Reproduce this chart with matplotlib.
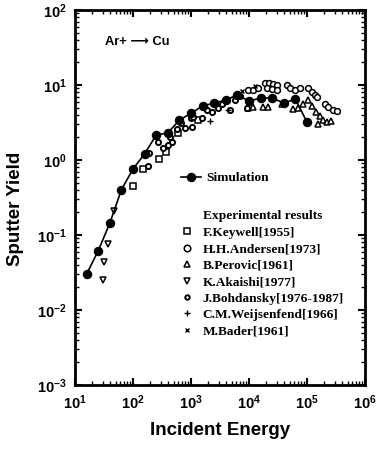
import matplotlib
matplotlib.use("Agg")
import matplotlib.pyplot as plt
from matplotlib.ticker import LogLocator, FuncFormatter, NullFormatter
from matplotlib.lines import Line2D
import numpy as np

plt.rcParams['mathtext.fontset'] = 'custom'
plt.rcParams['mathtext.bf'] = 'Liberation Sans:bold'
plt.rcParams['mathtext.rm'] = 'Liberation Sans'
plt.rcParams['font.family'] = ['Liberation Sans', 'DejaVu Sans']

# ---------------- data ----------------
sim_E = [15.8, 25, 40, 63, 100, 158, 251, 398, 631, 1000, 1585, 2512, 3981,
         6310, 10000, 15850, 25120, 39810, 63100, 100000]
sim_Y = [0.030, 0.061, 0.145, 0.40, 0.76, 1.2, 2.15, 2.3, 3.4, 4.2, 5.25, 5.75,
         6.3, 7.4, 6.1, 6.7, 6.7, 5.75, 6.5, 3.2]

keywell_E = [100, 148, 280, 370, 600, 1320]
keywell_Y = [0.45, 0.76, 1.03, 1.28, 2.3, 3.4]

andersen_E = [63, 9600, 11700, 14300, 18900, 22100, 25900, 30400, 20400, 25000,
              30400, 45200, 50900, 61700, 75000, 104000, 122000, 137000, 148000,
              204000, 230000, 280000, 330000]
andersen_Y = [0.40, 8.6, 8.6, 9.1, 10.6, 10.6, 10.3, 10.0, 9.1, 8.85,
              8.6, 10.0, 9.1, 8.6, 9.1, 9.1, 8.07, 7.35, 6.9,
              5.6, 5.1, 4.6, 4.5]

perovic_E = [9600, 11700, 17500, 21300, 37000, 57000, 70000, 85000, 104000,
             123000, 143000, 166000, 190000, 155000, 220000, 260000]
perovic_Y = [4.9, 5.1, 5.1, 5.1, 5.6, 4.8, 4.9, 5.6, 6.3,
             5.25, 4.4, 3.9, 3.4, 3.0, 3.2, 3.3]

akaishi_E = [31, 32, 37, 47]
akaishi_Y = [0.025, 0.044, 0.076, 0.21]

bohdansky_E = [180, 190, 270, 330, 400, 440, 470, 570, 680, 790, 1000, 1050,
               1070, 1540, 1900, 2300, 2900, 3400, 4150, 4700, 5700, 7000, 9200]
bohdansky_Y = [0.83, 1.24, 1.74, 1.45, 1.58, 2.03, 1.74, 2.6, 3.1, 2.7, 3.6, 2.75,
               3.7, 3.6, 4.6, 4.4, 4.9, 5.6, 6.3, 4.6, 6.3, 7.1, 4.9]

weijsenfeld_E = [2150, 4400]
weijsenfeld_Y = [3.3, 4.6]

bader_E = [12600, 7500]
bader_Y = [9.7, 8.2]

xtick_vals = [1e1, 1e2, 1e3, 1e4, 1e5, 1e6]
ytick_vals = [1e-3, 1e-2, 1e-1, 1e0, 1e1, 1e2]

# ---------------- figure ----------------
W, H = 381, 457
fig = plt.figure(figsize=(W/100, H/100), dpi=100)
ax = fig.add_axes([75/W, (H-385)/H, 290/W, 375/H])
ax.set_xscale('log')
ax.set_yscale('log')
ax.set_xlim(1e1, 1e6)
ax.set_ylim(1e-3, 1e2)

oms = 4.2
oew = 1.1
ax.plot(keywell_E, keywell_Y, ls='none', marker='s', ms=oms-0.4, mfc='white', mec='black', mew=oew, zorder=3)
ax.plot(andersen_E, andersen_Y, ls='none', marker='o', ms=oms, mfc='white', mec='black', mew=oew, zorder=3)
ax.plot(perovic_E, perovic_Y, ls='none', marker='^', ms=oms, mfc='white', mec='black', mew=oew, zorder=3)
ax.plot(akaishi_E, akaishi_Y, ls='none', marker='v', ms=oms, mfc='white', mec='black', mew=oew, zorder=3)
ax.plot(bohdansky_E, bohdansky_Y, ls='none', marker='o', ms=oms-0.5, mfc='white', mec='black', mew=oew+0.3, zorder=3)
ax.plot(weijsenfeld_E, weijsenfeld_Y, ls='none', marker='+', ms=oms, mec='black', mew=1.0, zorder=3)
ax.plot(bader_E, bader_Y, ls='none', marker='x', ms=oms-0.8, mec='black', mew=1.0, zorder=3)
ax.plot(sim_E, sim_Y, color='black', lw=1.2, marker='o', ms=5.8, mfc='black', mec='black', zorder=4)

for s in ax.spines.values():
    s.set_linewidth(2)

ax.xaxis.set_minor_locator(LogLocator(base=10, subs=np.arange(2, 10), numticks=20))
ax.yaxis.set_minor_locator(LogLocator(base=10, subs=np.arange(2, 10), numticks=20))
ax.xaxis.set_minor_formatter(NullFormatter())
ax.yaxis.set_minor_formatter(NullFormatter())

def fmt(v, pos):
    e = int(round(np.log10(v)))
    return r'$\mathbf{10^{%d}}$' % e

ax.set_xticks(xtick_vals)
ax.set_yticks(ytick_vals)
ax.xaxis.set_major_formatter(FuncFormatter(fmt))
ax.yaxis.set_major_formatter(FuncFormatter(fmt))
ax.tick_params(which='major', direction='in', length=5, width=1.5, top=True, right=True,
               labelsize=10.5, pad=6)
ax.tick_params(which='minor', direction='in', length=3, width=1.0, top=True, right=True)

ax.set_xlabel('Incident Energy', fontsize=13.5, fontweight='bold', labelpad=7)
ax.set_ylabel('Sputter Yield', fontsize=13.5, fontweight='bold', labelpad=4)
ax.yaxis.set_label_coords(-0.175, 0.47)

ax.text(0.105, 0.915, 'Ar+ \u27f6 Cu', transform=ax.transAxes, fontsize=9.3,
        fontweight='bold', family=['Liberation Sans', 'DejaVu Sans'], va='center', ha='left')

# legends
prop = {'family': 'Liberation Serif', 'weight': 'bold', 'size': 9.6}
h_sim = Line2D([], [], color='black', lw=1.2, marker='o', ms=5.8, mfc='black')
leg1 = fig.legend([h_sim], ['Simulation'], loc='center left',
                  bbox_to_anchor=(181/W, 1 - 178/H), frameon=False, prop=prop,
                  handlelength=1.5, handletextpad=0.4, borderpad=0, borderaxespad=0)

h_blank = Line2D([], [], ls='none', marker='none')
mk = dict(ls='none', mfc='white', mec='black', mew=oew)
handles = [h_blank,
           Line2D([], [], marker='s', ms=oms-0.4, **mk),
           Line2D([], [], marker='o', ms=oms+0.5, **mk),
           Line2D([], [], marker='^', ms=oms-0.5, **mk),
           Line2D([], [], marker='v', ms=oms-0.5, **mk),
           Line2D([], [], marker='o', ms=oms-1, ls='none', mfc='white', mec='black', mew=oew+0.3),
           Line2D([], [], marker='+', ms=oms, ls='none', mec='black', mew=1.0),
           Line2D([], [], marker='x', ms=oms-1, ls='none', mec='black', mew=1.0)]
labels = ['Experimental results', 'F.Keywell[1955]', 'H.H.Andersen[1973]',
          'B.Perovic[1961]', 'K.Akaishi[1977]', 'J.Bohdansky[1976-1987]',
          'C.M.Weijsenfend[1966]', 'M.Bader[1961]']
leg2 = fig.legend(handles, labels, loc='upper left', bbox_to_anchor=(178/W, 1 - 210/H),
                  frameon=False, prop=prop, handlelength=1.3, handletextpad=0.55,
                  labelspacing=0.31, borderpad=0, borderaxespad=0)

fig.savefig('out.png', dpi=100)
